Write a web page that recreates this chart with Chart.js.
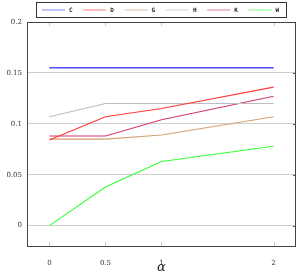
<!DOCTYPE html>
<html>
<head>
<meta charset="utf-8">
<script src="https://cdn.jsdelivr.net/npm/chart.js@4.4.0/dist/chart.umd.min.js"></script>
<style>
  html, body { margin: 0; padding: 0; background: #fff; }
  #wrap { width: 297px; height: 276px; }
</style>
</head>
<body>
<div id="wrap"><canvas id="chart"></canvas></div>
<script>
// valeurs
const alphas = [0, 0.5, 1, 2];
const seriesC = [0.155, 0.155, 0.155, 0.155];
const seriesD = [0.084, 0.107, 0.115, 0.136];
const seriesG = [0.085, 0.085, 0.089, 0.107];
const seriesH = [0.107, 0.120, 0.120, 0.120];
const seriesK = [0.088, 0.088, 0.104, 0.127];
const seriesW = [0.000, 0.038, 0.063, 0.078];
const xTicks = [0, 0.5, 1, 2];
const yTicks = [0, 0.05, 0.1, 0.15, 0.2];

const names = ['C', 'D', 'G', 'H', 'K', 'W'];
const values = [seriesC, seriesD, seriesG, seriesH, seriesK, seriesW];
const colors = ['#4a4aff', '#ff3b3b', '#d4a070', '#bdbdbd', '#d43a6a', '#33ff33'];

const toPoints = arr => arr.map((v, i) => ({ x: alphas[i], y: v }));

// cadre, petites graduations et légende façon pgfplots
const framePlugin = {
    id: 'frame',
    afterDraw(chart) {
        const ctx = chart.ctx;
        const a = chart.chartArea;
        const xs = chart.scales.x;
        const ys = chart.scales.y;
        ctx.save();
        ctx.strokeStyle = '#c8c8c8';
        ctx.lineWidth = 1;
        xTicks.forEach(t => {
            const px = Math.round(xs.getPixelForValue(t)) + 0.5;
            ctx.beginPath();
            ctx.moveTo(px, a.bottom); ctx.lineTo(px, a.bottom - 4);
            ctx.moveTo(px, a.top); ctx.lineTo(px, a.top + 4);
            ctx.stroke();
        });
        ctx.strokeStyle = '#555';
        yTicks.forEach(t => {
            const py = Math.round(ys.getPixelForValue(t)) + 0.5;
            ctx.beginPath();
            ctx.moveTo(a.right, py); ctx.lineTo(a.right - 3, py);
            ctx.stroke();
        });
        ctx.strokeStyle = '#444';
        ctx.strokeRect(Math.round(a.left) + 0.5, Math.round(a.top) + 0.5,
            Math.round(a.right - a.left) - 1, Math.round(a.bottom - a.top));

        // légende
        const lx = 36, ly = 2, lw = 250, lh = 15;
        ctx.fillStyle = '#fff';
        ctx.fillRect(lx, ly, lw, lh);
        ctx.strokeStyle = '#333';
        ctx.strokeRect(lx + 0.5, ly + 0.5, lw, lh);
        ctx.font = 'bold 6px "DejaVu Sans Mono"';
        ctx.textBaseline = 'middle';
        chart.data.datasets.forEach((ds, i) => {
            const x0 = lx + 6 + i * 41.3;
            const yy = ly + 8;
            ctx.globalAlpha = 0.55;
            ctx.strokeStyle = ds.borderColor;
            ctx.lineWidth = 1.2;
            ctx.beginPath();
            ctx.moveTo(x0, yy); ctx.lineTo(x0 + 23, yy);
            ctx.stroke();
            ctx.globalAlpha = 1;
            ctx.fillStyle = '#222';
            ctx.fillText(ds.label, x0 + 27, yy);
        });
        ctx.restore();
    }
};

new Chart(document.getElementById('chart'), {
    type: 'line',
    data: {
        datasets: names.map((n, i) => ({
            label: n,
            data: toPoints(values[i]),
            borderColor: colors[i],
            backgroundColor: colors[i],
            borderWidth: i === 0 ? 1.4 : 1.1,
            pointRadius: 0,
            tension: 0
        }))
    },
    options: {
        responsive: true,
        maintainAspectRatio: false,
        animation: false,
        layout: { padding: { top: 22, right: 1, left: 0, bottom: 0 } },
        plugins: {
            legend: { display: false },
            tooltip: { enabled: false }
        },
        scales: {
            x: {
                type: 'linear',
                min: -0.2,
                max: 2.2,
                afterBuildTicks: s => { s.ticks = xTicks.map(v => ({ value: v })); },
                afterFit: s => { s.height = 30; },
                grid: { display: false },
                border: { display: false },
                ticks: {
                    padding: 5,
                    color: '#333',
                    font: { family: '"DejaVu Serif"', size: 7 },
                    callback: v => String(v)
                },
                title: {
                    display: true,
                    text: 'α',
                    color: '#222',
                    padding: { top: 0, bottom: 1 },
                    font: { family: '"DejaVu Serif"', size: 13, style: 'italic' }
                }
            },
            y: {
                min: -0.02,
                max: 0.2,
                afterBuildTicks: s => { s.ticks = yTicks.map(v => ({ value: v })); },
                afterFit: s => { s.width = 27; },
                grid: { color: '#cfcfcf', lineWidth: 1, drawTicks: false },
                border: { display: false },
                ticks: {
                    padding: 5,
                    color: '#333',
                    font: { family: '"DejaVu Serif"', size: 7 },
                    callback: v => String(v)
                }
            }
        }
    },
    plugins: [framePlugin]
});
</script>
</body>
</html>
